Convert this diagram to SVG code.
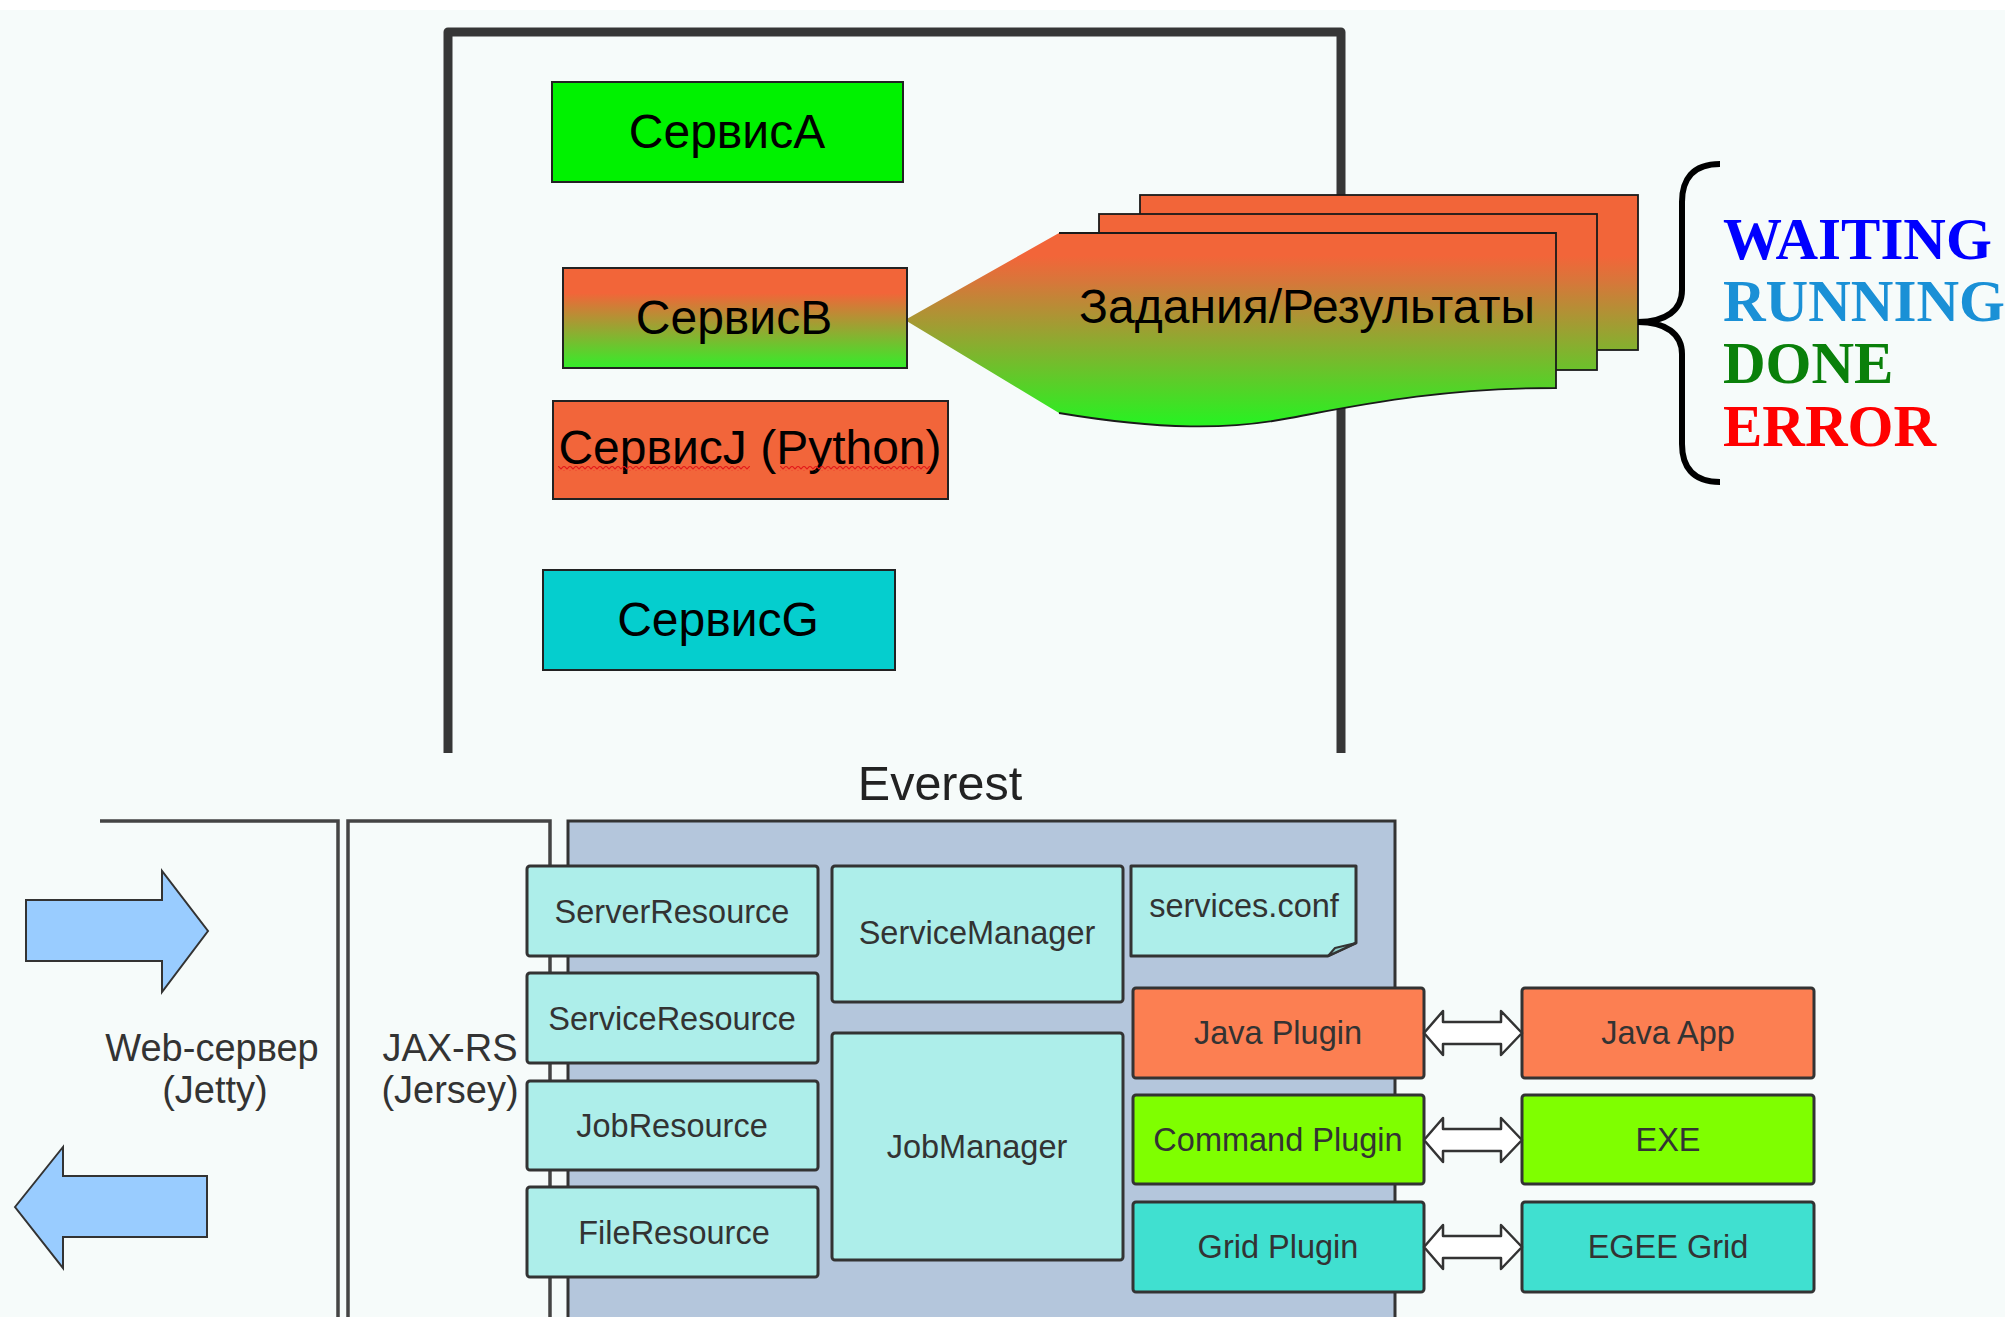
<svg xmlns="http://www.w3.org/2000/svg" width="2005" height="1317" viewBox="0 0 2005 1317">
  <defs>
    <style>
      .sans { font-family: "Liberation Sans", Arial, sans-serif; }
      .svc { font-family: "Liberation Sans", Arial, sans-serif; font-size: 48px; fill: #000; text-anchor: middle; }
      .svcbox { stroke: #222; stroke-width: 2; }
      .state { font-family: "Liberation Serif", "Times New Roman", serif; font-weight: bold; font-size: 59px; }
      .frame { fill: none; stroke: #363636; stroke-width: 9; stroke-linejoin: round; }
      .layer { fill: none; stroke: #444; stroke-width: 3.5; }
      .comp { stroke: #333; stroke-width: 3; }
      .lbl { font-family: "Liberation Sans", Arial, sans-serif; font-size: 32.5px; fill: #333; text-anchor: middle; }
      .big { font-family: "Liberation Sans", Arial, sans-serif; font-size: 38px; fill: #333; text-anchor: middle; }
      .res { fill: #adeeea; }
      .sheet { stroke: #1a1a1a; stroke-width: 1.8; }
      .link { fill: #fff; stroke: #333; stroke-width: 2.5; stroke-linejoin: round; }
      .flow { fill: #99ccff; stroke: #333; stroke-width: 2; }
    </style>
    <!-- orange-to-green fill shared by the job sheets and the callout wedge -->
    <linearGradient id="jobs" gradientUnits="userSpaceOnUse" x1="0" y1="256" x2="0" y2="422">
      <stop offset="0" stop-color="#f26539"/>
      <stop offset="0.15" stop-color="#d8763a"/>
      <stop offset="1" stop-color="#2af022"/>
    </linearGradient>
    <linearGradient id="svcB" x1="0" y1="0" x2="0" y2="1">
      <stop offset="0" stop-color="#f26539"/>
      <stop offset="0.25" stop-color="#f26539"/>
      <stop offset="1" stop-color="#33ee2a"/>
    </linearGradient>
    <!-- spell-check squiggle -->
    <pattern id="squiggle" width="6" height="5" patternUnits="userSpaceOnUse">
      <path d="M0,1 L3,4 L6,1" fill="none" stroke="#e41a1a" stroke-width="1.2"/>
    </pattern>
    <path id="dbl" d="M0,0 L19,-22 V-11 H77 V-22 L98,0 L77,22 V11 H19 V22 Z"/>
  </defs>

  <!-- page -->
  <rect width="2005" height="1317" fill="#f6fbfa"/>
  <rect width="2005" height="10" fill="#ffffff"/>

  <!-- service container -->
  <path class="frame" d="M448,753 V32 H1341 V753"/>

  <!-- job / result sheets -->
  <g id="jobs-stack">
    <rect class="sheet" x="1140" y="195" width="498" height="155" fill="url(#jobs)"/>
    <rect class="sheet" x="1099" y="214" width="498" height="156" fill="url(#jobs)"/>
    <path d="M905,320 L1059,233 H1556 V388 C1440,388 1360,405 1290,418 C1230,430 1160,430 1059,413 Z" fill="url(#jobs)"/>
    <path class="sheet" fill="none" d="M1059,233 H1556 V388 C1440,388 1360,405 1290,418 C1230,430 1160,430 1059,413"/>
    <text class="svc" x="1307" y="323">Задания/Результаты</text>
  </g>

  <g id="serviceA">
    <rect class="svcbox" x="552" y="82" width="351" height="100" fill="#00f200"/>
    <text class="svc" x="727" y="148">СервисA</text>
  </g>
  <g id="serviceB">
    <rect class="svcbox" x="563" y="268" width="344" height="100" fill="url(#svcB)"/>
    <text class="svc" x="734" y="334">СервисB</text>
  </g>
  <g id="serviceJ">
    <rect class="svcbox" x="553" y="401" width="395" height="98" fill="#f2653a"/>
    <text class="svc" x="750" y="464">СервисJ (Python)</text>
    <rect x="558" y="466" width="192" height="5" fill="url(#squiggle)"/>
    <rect x="780" y="466" width="150" height="5" fill="url(#squiggle)"/>
  </g>
  <g id="serviceG">
    <rect class="svcbox" x="543" y="570" width="352" height="100" fill="#05cece"/>
    <text class="svc" x="718" y="636">СервисG</text>
  </g>

  <!-- job states -->
  <g id="states">
    <path d="M1720,164 C1692,164 1682,180 1682,202 V290 C1682,310 1666,322 1638,322 C1666,322 1682,334 1682,354 V444 C1682,466 1692,482 1720,482" fill="none" stroke="#000" stroke-width="6"/>
    <text class="state" x="1723" y="259" fill="#0000ff">WAITING</text>
    <text class="state" x="1723" y="321" fill="#1a90d6">RUNNING</text>
    <text class="state" x="1723" y="383" fill="#0a800a">DONE</text>
    <text class="state" x="1723" y="446" fill="#ff0000">ERROR</text>
  </g>

  <!-- Everest architecture -->
  <text class="sans" x="940" y="800" font-size="48.5" fill="#222" text-anchor="middle">Everest</text>

  <g id="web-server">
    <path class="layer" d="M100,821 H338 V1317"/>
    <text class="big" x="212" y="1061">Web-сервер</text>
    <text class="big" x="215" y="1103">(Jetty)</text>
  </g>
  <g id="jax-rs">
    <path class="layer" d="M348,1317 V821 H550 V1317"/>
    <text class="big" x="450" y="1061">JAX-RS</text>
    <text class="big" x="450" y="1103">(Jersey)</text>
  </g>
  <g id="everest">
    <rect class="comp" x="568" y="821" width="827" height="510" fill="#b4c6dc"/>
  </g>

  <g id="server-resource">
    <rect class="comp res" x="527" y="866" width="291" height="90" rx="3"/>
    <text class="lbl" x="672" y="923">ServerResource</text>
  </g>
  <g id="service-resource">
    <rect class="comp res" x="527" y="973" width="291" height="90" rx="3"/>
    <text class="lbl" x="672" y="1030">ServiceResource</text>
  </g>
  <g id="job-resource">
    <rect class="comp res" x="527" y="1081" width="291" height="89" rx="3"/>
    <text class="lbl" x="672" y="1137">JobResource</text>
  </g>
  <g id="file-resource">
    <rect class="comp res" x="527" y="1187" width="291" height="90" rx="3"/>
    <text class="lbl" x="674" y="1244">FileResource</text>
  </g>
  <g id="service-manager">
    <rect class="comp res" x="832" y="866" width="291" height="136" rx="3"/>
    <text class="lbl" x="977" y="944">ServiceManager</text>
  </g>
  <g id="job-manager">
    <rect class="comp res" x="832" y="1033" width="291" height="227" rx="3"/>
    <text class="lbl" x="977" y="1158">JobManager</text>
  </g>
  <g id="services-conf">
    <path class="comp res" d="M1131,866 H1356 V943 L1328,956 H1131 Z" stroke-linejoin="round"/>
    <path d="M1356,943 L1335,948 L1328,956 Z" fill="#8fcfcc" stroke="#333" stroke-width="2" stroke-linejoin="round"/>
    <text class="lbl" x="1244" y="917">services.conf</text>
  </g>

  <g id="java-plugin">
    <rect class="comp" x="1133" y="988" width="291" height="90" rx="3" fill="#fc7f52"/>
    <text class="lbl" x="1278" y="1044">Java Plugin</text>
  </g>
  <g id="command-plugin">
    <rect class="comp" x="1133" y="1095" width="291" height="89" rx="3" fill="#7fff00"/>
    <text class="lbl" x="1278" y="1151">Command Plugin</text>
  </g>
  <g id="grid-plugin">
    <rect class="comp" x="1133" y="1202" width="291" height="90" rx="3" fill="#40e0d0"/>
    <text class="lbl" x="1278" y="1258">Grid Plugin</text>
  </g>
  <g id="java-app">
    <rect class="comp" x="1522" y="988" width="292" height="90" rx="3" fill="#fc7f52"/>
    <text class="lbl" x="1668" y="1044">Java App</text>
  </g>
  <g id="exe">
    <rect class="comp" x="1522" y="1095" width="292" height="89" rx="3" fill="#7fff00"/>
    <text class="lbl" x="1668" y="1151">EXE</text>
  </g>
  <g id="egee-grid">
    <rect class="comp" x="1522" y="1202" width="292" height="90" rx="3" fill="#40e0d0"/>
    <text class="lbl" x="1668" y="1258">EGEE Grid</text>
  </g>

  <!-- connectors -->
  <g id="connectors">
    <use href="#dbl" class="link" x="1424" y="1033"/>
    <use href="#dbl" class="link" x="1424" y="1140"/>
    <use href="#dbl" class="link" x="1424" y="1247"/>
    <path class="flow" d="M26,900 H162 V871 L208,931 L162,992 V961 H26 Z"/>
    <path class="flow" d="M15,1207 L63,1147 V1176 H207 V1237 H63 V1268 Z"/>
  </g>
</svg>
